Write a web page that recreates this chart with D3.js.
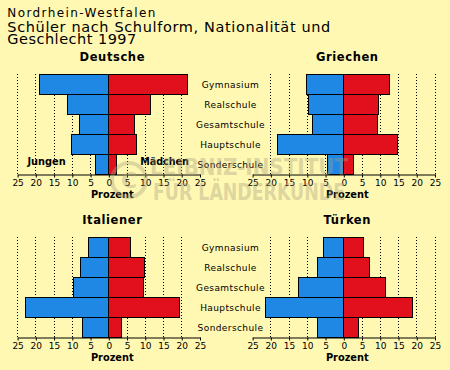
<!DOCTYPE html>
<html><head><meta charset="utf-8">
<script src="https://cdn.jsdelivr.net/npm/d3@7"></script>
<style>
html,body{margin:0;padding:0;background:#fff8b2;}
svg{display:block;}
text{font-family:"DejaVu Sans",Verdana,sans-serif;}
</style></head>
<body>
<svg id="c" width="450" height="370"></svg>
<script>
const categories = ["Gymnasium","Realschule","Gesamtschule","Hauptschule","Sonderschule"];
const groups = ["Deutsche","Griechen","Italiener","Türken"];
const deutscheJungen   = [19.0, 11.3, 8.0, 10.2, 3.7];
const deutscheMaedchen = [21.5, 11.3, 7.1, 7.5, 2.0];
const griechenJungen   = [10.3, 9.6, 8.7, 18.3, 4.6];
const griechenMaedchen = [12.4, 9.6, 9.3, 14.6, 2.7];
const italienerJungen  = [5.5, 7.7, 9.6, 22.8, 7.1];
const italienerMaedchen= [6.0, 9.7, 9.4, 19.3, 3.6];
const tuerkenJungen    = [5.5, 7.1, 12.4, 21.4, 7.1];
const tuerkenMaedchen  = [5.5, 7.1, 11.5, 18.8, 4.1];
const tickValues = [-25,-20,-15,-10,-5,0,5,10,15,20,25];
const titleLines = ["Nordrhein-Westfalen","Schüler nach Schulform, Nationalität und","Geschlecht 1997"];

const jungen = [deutscheJungen, griechenJungen, italienerJungen, tuerkenJungen];
const maedchen = [deutscheMaedchen, griechenMaedchen, italienerMaedchen, tuerkenMaedchen];

const BLUE = "#1f88e4", RED = "#e2101c", BG = "#fff8b2";
const svg = d3.select("#c");
svg.append("rect").attr("width",450).attr("height",370).attr("fill",BG);

// Header
const hdr = [
  {x:7.3, y:16.5, size:12, len:148},
  {x:7.3, y:31.6, size:14.5, len:323},
  {x:7.3, y:44.3, size:14.5, len:129}
];
titleLines.forEach((t,i)=>{
  svg.append("text").attr("x",hdr[i].x).attr("y",hdr[i].y)
    .attr("font-size",hdr[i].size).attr("textLength",hdr[i].len)
    .attr("lengthAdjust","spacing").attr("fill","#000").text(t);
});

const panels = [
  {cx:108.3, top:74, side:"left"},
  {cx:343.3, top:74, side:"right"},
  {cx:108.3, top:237, side:"left"},
  {cx:343.3, top:237, side:"right"}
];
const HALF = 91.2, ROWH = 20;

panels.forEach((p,gi)=>{
  const x = d3.scaleLinear().domain([-25,25]).range([p.cx-HALF, p.cx+HALF]);
  const y = d3.scaleBand().domain(categories).range([p.top, p.top+ROWH*categories.length]).padding(0);
  const bottom = p.top + ROWH*categories.length;
  const g = svg.append("g");

  // dotted gridlines
  const gridVals = tickValues.filter(v => v!==0 && !(p.side==="left" && v===25) && !(p.side==="right" && v===-25));
  g.selectAll("line.grid").data(gridVals).join("line")
    .attr("x1",d=>Math.round(x(d))+0.5).attr("x2",d=>Math.round(x(d))+0.5)
    .attr("y1",p.top).attr("y2",bottom)
    .attr("stroke","#000").attr("stroke-width",1).attr("stroke-dasharray","1,2");

  // bars
  g.selectAll("rect.j").data(categories).join("rect")
    .attr("x",(d,i)=>Math.round(x(-jungen[gi][i]))+0.5)
    .attr("y",d=>Math.round(y(d))+0.5)
    .attr("width",(d,i)=>Math.round(x(0))-Math.round(x(-jungen[gi][i])))
    .attr("height",y.bandwidth())
    .attr("fill",BLUE).attr("stroke","#000").attr("stroke-width",1);
  g.selectAll("rect.m").data(categories).join("rect")
    .attr("x",Math.round(x(0))+0.5)
    .attr("y",d=>Math.round(y(d))+0.5)
    .attr("width",(d,i)=>Math.round(x(maedchen[gi][i]))-Math.round(x(0)))
    .attr("height",y.bandwidth())
    .attr("fill",RED).attr("stroke","#000").attr("stroke-width",1);

  // axis
  const axis = d3.axisBottom(x).tickValues(tickValues).tickSizeInner(3).tickSizeOuter(0)
    .tickPadding(3).tickFormat(d=>Math.abs(d));
  const ag = svg.append("g").attr("transform",`translate(0.5,${Math.round(bottom)+0.5})`).call(axis);
  ag.select(".domain").attr("stroke","#000");
  ag.selectAll(".tick line").attr("stroke","#000");
  ag.selectAll(".tick text").attr("font-size",9).attr("font-family","DejaVu Sans").attr("fill","#000")
    .attr("dy","0.71em").attr("y",5.2);

  // title
  svg.append("text").attr("x",p.cx+4).attr("y",p.top-13.3).attr("text-anchor","middle")
    .attr("font-size",11.5).attr("font-weight","bold").attr("letter-spacing",0.6).attr("fill","#000")
    .text(groups[gi]);
  // Prozent
  svg.append("text").attr("x",p.cx+4).attr("y",bottom+23.5).attr("text-anchor","middle")
    .attr("font-size",9.8).attr("font-weight","bold").attr("fill","#000").text("Prozent");
});

// category labels between panels
[74,237].forEach(top=>{
  const y = d3.scaleBand().domain(categories).range([top, top+ROWH*categories.length]);
  svg.append("g").selectAll("text").data(categories).join("text")
    .attr("x",230.5).attr("y",d=>y(d)+y.bandwidth()/2+3.7)
    .attr("text-anchor","middle").attr("font-size",9).attr("letter-spacing",0.4)
    .attr("fill","#000").text(d=>d);
});

// Jungen / Mädchen
svg.append("text").attr("x",46.5).attr("y",164.5).attr("text-anchor","middle")
  .attr("font-size",9.8).attr("font-weight","bold").attr("fill","#000").text("Jungen");
svg.append("text").attr("x",164.5).attr("y",164.5).attr("text-anchor","middle")
  .attr("font-size",9.6).attr("font-weight","bold").attr("fill","#000").text("Mädchen");

// watermark
const wm = svg.append("g").attr("opacity",0.38).attr("fill","#a8a080");
wm.append("circle").attr("cx",129).attr("cy",180).attr("r",17).attr("fill","none")
  .attr("stroke","#a8a080").attr("stroke-width",4);
wm.append("text").attr("x",129).attr("y",188).attr("text-anchor","middle")
  .attr("font-family","Liberation Sans Narrow, Liberation Sans").attr("font-weight","bold")
  .attr("font-size",22).text("C");
wm.append("text").attr("x",150).attr("y",175).attr("font-family","Liberation Sans Narrow, Liberation Sans")
  .attr("font-weight","bold").attr("font-size",23).attr("textLength",198).attr("lengthAdjust","spacingAndGlyphs")
  .text("LEIBNIZ-INSTITUT");
wm.append("text").attr("x",153).attr("y",200).attr("font-family","Liberation Sans Narrow, Liberation Sans")
  .attr("font-weight","bold").attr("font-size",23).attr("textLength",192).attr("lengthAdjust","spacingAndGlyphs")
  .text("FÜR LÄNDERKUNDE");
</script>
</body></html>
